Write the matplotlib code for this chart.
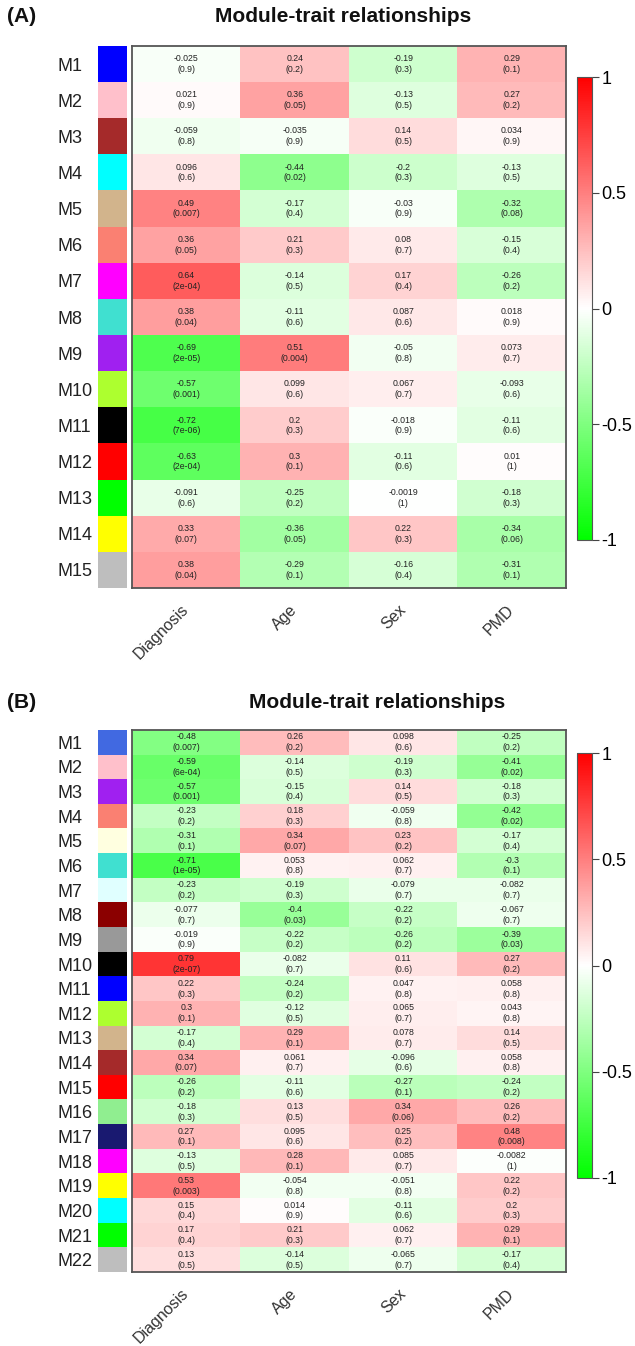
import numpy as np
import matplotlib
matplotlib.use("Agg")
import matplotlib.pyplot as plt
from matplotlib.colors import LinearSegmentedColormap, to_rgba
from matplotlib.cm import ScalarMappable
from matplotlib.colors import Normalize

plt.rcParams['font.family'] = ['Liberation Sans', 'DejaVu Sans']

traits = ['Diagnosis', 'Age', 'Sex', 'PMD']

# panel A
mods_a = ['M%d' % i for i in range(1, 16)]
cols_a = ['blue', 'pink', 'brown', 'cyan', 'tan', 'salmon', 'magenta', 'turquoise',
          '#A020F0', 'greenyellow', 'black', 'red', '#00FF00', 'yellow', '#BEBEBE']
cor_a = [
    [-0.025, 0.24, -0.19, 0.29],
    [0.021, 0.36, -0.13, 0.27],
    [-0.059, -0.035, 0.14, 0.034],
    [0.096, -0.44, -0.2, -0.13],
    [0.49, -0.17, -0.03, -0.32],
    [0.36, 0.21, 0.08, -0.15],
    [0.64, -0.14, 0.17, -0.26],
    [0.38, -0.11, 0.087, 0.018],
    [-0.69, 0.51, -0.05, 0.073],
    [-0.57, 0.099, 0.067, -0.093],
    [-0.72, 0.2, -0.018, -0.11],
    [-0.63, 0.3, -0.11, 0.01],
    [-0.091, -0.25, -0.0019, -0.18],
    [0.33, -0.36, 0.22, -0.34],
    [0.38, -0.29, -0.16, -0.31],
]
p_a = [
    [0.9, 0.2, 0.3, 0.1],
    [0.9, 0.05, 0.5, 0.2],
    [0.8, 0.9, 0.5, 0.9],
    [0.6, 0.02, 0.3, 0.5],
    [0.007, 0.4, 0.9, 0.08],
    [0.05, 0.3, 0.7, 0.4],
    [2e-04, 0.5, 0.4, 0.2],
    [0.04, 0.6, 0.6, 0.9],
    [2e-05, 0.004, 0.8, 0.7],
    [0.001, 0.6, 0.7, 0.6],
    [7e-06, 0.3, 0.9, 0.6],
    [2e-04, 0.1, 0.6, 1],
    [0.6, 0.2, 1, 0.3],
    [0.07, 0.05, 0.3, 0.06],
    [0.04, 0.1, 0.4, 0.1],
]

# panel B
mods_b = ['M%d' % i for i in range(1, 23)]
cols_b = ['royalblue', 'pink', '#A020F0', 'salmon', 'lightyellow', 'turquoise', 'lightcyan',
          'darkred', '#999999', 'black', 'blue', 'greenyellow', 'tan', 'brown', 'red',
          'lightgreen', 'midnightblue', 'magenta', 'yellow', 'cyan', '#00FF00', '#BEBEBE']
cor_b = [
    [-0.48, 0.26, 0.098, -0.25],
    [-0.59, -0.14, -0.19, -0.41],
    [-0.57, -0.15, 0.14, -0.18],
    [-0.23, 0.18, -0.059, -0.42],
    [-0.31, 0.34, 0.23, -0.17],
    [-0.71, 0.053, 0.062, -0.3],
    [-0.23, -0.19, -0.079, -0.082],
    [-0.077, -0.4, -0.22, -0.067],
    [-0.019, -0.22, -0.26, -0.39],
    [0.79, -0.082, 0.11, 0.27],
    [0.22, -0.24, 0.047, 0.058],
    [0.3, -0.12, 0.065, 0.043],
    [-0.17, 0.29, 0.078, 0.14],
    [0.34, 0.061, -0.096, 0.058],
    [-0.26, -0.11, -0.27, -0.24],
    [-0.18, 0.13, 0.34, 0.26],
    [0.27, 0.095, 0.25, 0.48],
    [-0.13, 0.28, 0.085, -0.0082],
    [0.53, -0.054, -0.051, 0.22],
    [0.15, 0.014, -0.11, 0.2],
    [0.17, 0.21, 0.062, 0.29],
    [0.13, -0.14, -0.065, -0.17],
]
p_b = [
    [0.007, 0.2, 0.6, 0.2],
    [6e-04, 0.5, 0.3, 0.02],
    [0.001, 0.4, 0.5, 0.3],
    [0.2, 0.3, 0.8, 0.02],
    [0.1, 0.07, 0.2, 0.4],
    [1e-05, 0.8, 0.7, 0.1],
    [0.2, 0.3, 0.7, 0.7],
    [0.7, 0.03, 0.2, 0.7],
    [0.9, 0.2, 0.2, 0.03],
    [2e-07, 0.7, 0.6, 0.2],
    [0.3, 0.2, 0.8, 0.8],
    [0.1, 0.5, 0.7, 0.8],
    [0.4, 0.1, 0.7, 0.5],
    [0.07, 0.7, 0.6, 0.8],
    [0.2, 0.6, 0.1, 0.2],
    [0.3, 0.5, 0.06, 0.2],
    [0.1, 0.6, 0.2, 0.008],
    [0.5, 0.1, 0.7, 1],
    [0.003, 0.8, 0.8, 0.2],
    [0.4, 0.9, 0.6, 0.3],
    [0.4, 0.3, 0.7, 0.1],
    [0.5, 0.5, 0.7, 0.4],
]

W, H = 635, 1346
cmap = LinearSegmentedColormap.from_list('gwr', ['#00FF00', 'white', '#FF0000'])
norm = Normalize(-1, 1)


def fmt_p(p):
    if p < 0.001:
        return '%.0e' % p
    return '%g' % p


def box(x0, x1, y0, y1):
    # pixel box -> figure fraction rect
    return [x0 / W, 1 - y1 / H, (x1 - x0) / W, (y1 - y0) / H]


def panel(fig, letter, mods, cols, cor, pv, top, bottom, cb_top, cb_bot, title_x, title_y):
    cor = np.array(cor)
    n = len(mods)

    # module colour strip
    sx = fig.add_axes(box(98, 127, top, bottom))
    sx.imshow(np.array([to_rgba(c) for c in cols]).reshape(n, 1, 4), aspect='auto')
    sx.set_xticks([])
    sx.set_yticks(range(n))
    sx.set_yticklabels(mods, fontsize=13, ha='left', color='#222222')
    sx.tick_params(axis='y', length=0, pad=29.5)
    for s in sx.spines.values():
        s.set_visible(False)

    # heatmap
    ax = fig.add_axes(box(132, 566, top, bottom))
    ax.imshow(cor, cmap=cmap, norm=norm, aspect='auto', interpolation='nearest')
    for i in range(n):
        for j in range(len(traits)):
            ax.text(j, i, '%g\n(%s)' % (cor[i, j], fmt_p(pv[i][j])), ha='center',
                    va='center', fontsize=6.3, color='#222222', linespacing=1.25)
    ax.set_yticks([])
    ax.set_xticks(range(len(traits)))
    ax.set_xticklabels(traits, rotation=45, ha='right', va='center',
                       rotation_mode='anchor', fontsize=11.5, color='#333333')
    ax.tick_params(axis='x', length=0, pad=14)
    for s in ax.spines.values():
        s.set_color('#555555')
        s.set_linewidth(1.3)

    # colour bar
    cax = fig.add_axes(box(577, 592, cb_top, cb_bot))
    cb = fig.colorbar(ScalarMappable(norm=norm, cmap=cmap), cax=cax,
                      ticks=[-1, -0.5, 0, 0.5, 1])
    cb.ax.set_yticklabels(['-1', '-0.5', '0', '0.5', '1'])
    cb.ax.tick_params(labelsize=13, length=5, width=0.8, color='#444444', pad=2)
    cb.outline.set_edgecolor('#555555')
    cb.outline.set_linewidth(0.8)

    ty = 1 - title_y / H
    fig.text(title_x / W, ty, 'Module-trait relationships', ha='center', va='center',
             fontsize=15, fontweight='bold', color='#111111')
    fig.text(7 / W, ty, letter, ha='left', va='center', fontsize=15,
             fontweight='bold', color='#111111')


fig = plt.figure(figsize=(W / 100, H / 100), dpi=100)
panel(fig, '(A)', mods_a, cols_a, cor_a, p_a, 46, 588, 77, 540, 343, 16)
panel(fig, '(B)', mods_b, cols_b, cor_b, p_b, 730, 1272, 753, 1178, 377, 702)
fig.savefig('out.png', dpi=100, facecolor='white')
